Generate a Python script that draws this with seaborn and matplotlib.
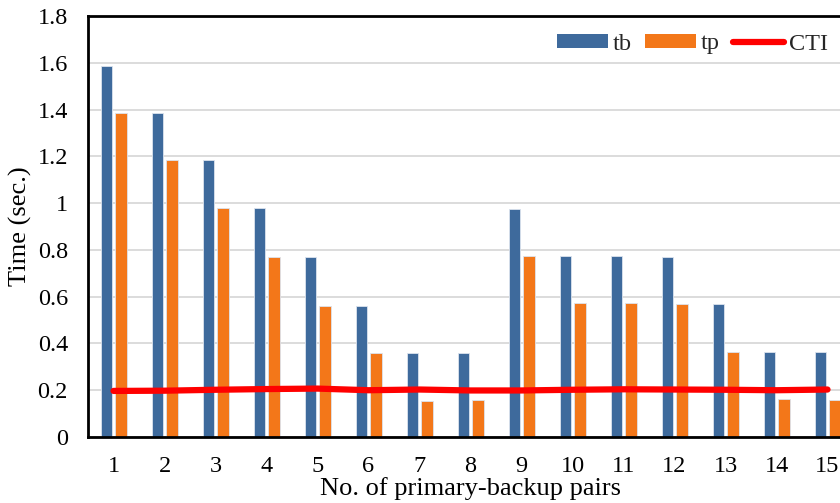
import numpy as np
import pandas as pd
import matplotlib
matplotlib.use("Agg")
import matplotlib.pyplot as plt
import seaborn as sns
from matplotlib.patches import Patch
from matplotlib.lines import Line2D

# Number of primary-backup pairs
pairs = [str(i) for i in range(1, 16)]
# Backup operating time (sec.)
tb = [1.585, 1.384, 1.183, 0.978, 0.771, 0.561, 0.358, 0.358, 0.976, 0.775,
      0.775, 0.771, 0.567, 0.362, 0.362]
# Primary operating time (sec.)
tp = [1.384, 1.183, 0.978, 0.771, 0.561, 0.358, 0.154, 0.158, 0.775, 0.572,
      0.572, 0.567, 0.362, 0.162, 0.158]
# Coordination time interval (sec.)
cti = [0.197, 0.198, 0.202, 0.205, 0.207, 0.200, 0.203, 0.199, 0.199, 0.202,
       0.204, 0.203, 0.202, 0.200, 0.203]
yticks = [0, 0.2, 0.4, 0.6, 0.8, 1, 1.2, 1.4, 1.6, 1.8]
ytick_labels = ["0", "0.2", "0.4", "0.6", "0.8", "1", "1.2", "1.4", "1.6", "1.8"]

BLUE = "#3E6A9C"
ORANGE = "#F37719"
RED = "#FF0000"

sns.set_theme(style="white")
plt.rcParams["font.family"] = ["Liberation Serif", "DejaVu Serif"]

df = pd.DataFrame({
    "pair": pairs * 2,
    "time": tb + tp,
    "series": ["tb"] * len(pairs) + ["tp"] * len(pairs),
})

fig = plt.figure(figsize=(8.4, 5.03), dpi=100)
ax = fig.add_axes([0.1048, 0.1312, 0.9107, 0.8370])

ax.set_axisbelow(True)
ax.grid(axis="y", color="#D9D9D9", linewidth=1.3)

sns.barplot(data=df, x="pair", y="time", hue="series",
            palette={"tb": BLUE, "tp": ORANGE}, saturation=1,
            width=0.56, gap=0.18,
            edgecolor="#DCE3EE", linewidth=0.6, errorbar=None,
            legend=False, ax=ax, zorder=2)

sns.lineplot(x=np.arange(len(pairs)), y=cti, color=RED, linewidth=4.5,
             solid_capstyle="round", ax=ax, zorder=3)

ax.set_xlim(-0.5, len(pairs) - 0.5)
ax.set_ylim(0, 1.8)
ax.set_yticks(yticks)
ax.set_yticklabels(ytick_labels)
ax.tick_params(axis="y", length=0, pad=14.5, labelsize=17.5, colors="black")
ax.tick_params(axis="x", length=0, pad=14, labelsize=17.5, colors="black")

ax.set_xlabel("No. of primary-backup pairs", fontsize=19, labelpad=0, color="black")
ax.set_ylabel("Time (sec.)", fontsize=19, labelpad=0, color="black")
ax.yaxis.set_label_coords(-0.073, 0.5)

for side in ("left", "bottom", "top"):
    ax.spines[side].set_visible(True)
    ax.spines[side].set_color("black")
    ax.spines[side].set_linewidth(2)
ax.spines["right"].set_visible(False)

handles = [
    Patch(facecolor=BLUE, edgecolor="none"),
    Patch(facecolor=ORANGE, edgecolor="none"),
    Line2D([0], [0], color=RED, linewidth=4.5, solid_capstyle="round"),
]
fig.legend(handles, ["tb", "tp", "CTI"], loc="center right",
           bbox_to_anchor=(828 / 840, 1 - 44 / 503), ncol=3, frameon=False,
           fontsize=17.5, handlelength=2.1, handleheight=0.55,
           handletextpad=0.2, columnspacing=0.55, borderpad=0, borderaxespad=0)

fig.savefig("out.png", dpi=100)
